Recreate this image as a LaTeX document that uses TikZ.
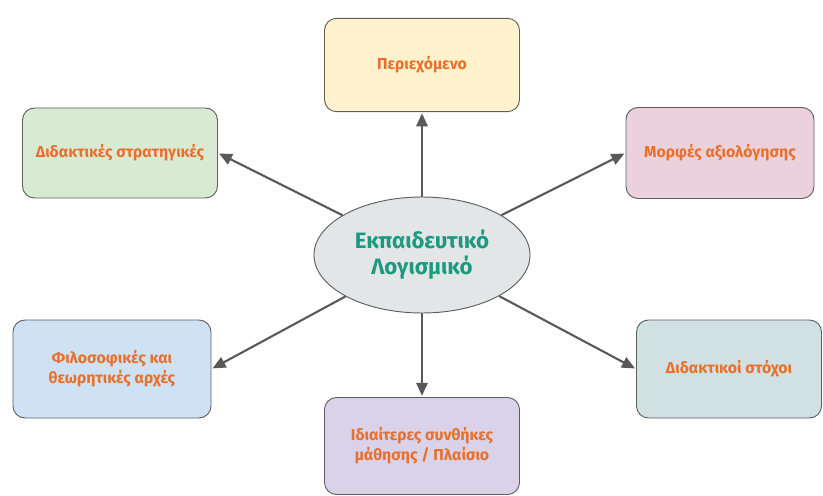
\documentclass[tikz,border=0pt]{standalone}
\usepackage{fontspec}
\setmainfont{Fira Sans}
\usepackage{tikz}
\usetikzlibrary{shapes.geometric,arrows.meta,positioning}
\definecolor{boxtext}{HTML}{E8702A}
\definecolor{hubtext}{HTML}{1B9A80}
\definecolor{boxline}{HTML}{5E5E5E}
\definecolor{arrowgray}{HTML}{595959}
\definecolor{hubfill}{HTML}{E2E6E6}
\definecolor{cyellow}{HTML}{FFF2CC}
\definecolor{cgreen}{HTML}{D9EAD3}
\definecolor{cpink}{HTML}{EAD1DC}
\definecolor{cblue}{HTML}{CFE2F3}
\definecolor{ccyan}{HTML}{D0E0E3}
\definecolor{clilac}{HTML}{D9D2E9}

\begin{document}
\begin{tikzpicture}[x=0.3mm, y=-0.3mm, >={Triangle[length=3.9mm,width=3.4mm]}]
   \useasboundingbox (0,0) rectangle (823,496);
   \node (hub) [ellipse, draw=boxline, line width=0.8pt, fill=hubfill,
      minimum width=64.8mm, minimum height=34.8mm, align=center,
      text=hubtext, font=\bfseries\fontsize{19}{22}\selectfont] at (422,255)
      {Εκπαιδευτικό\\Λογισμικό};
   \begin{scope}[every node/.style={rectangle, rounded corners=3.6mm, draw=boxline,
      line width=0.8pt, minimum width=58.5mm, minimum height=28mm, align=center,
      text=boxtext, font=\bfseries\fontsize{13.5}{17}\selectfont}]
    \node (content) [fill=cyellow] at (422,65) {Περιεχόμενο};
    \node (strat) [fill=cgreen, minimum height=27mm] at (120,153) {Διδακτικές στρατηγικές};
    \node (eval) [fill=cpink, minimum width=56.4mm, minimum height=27.3mm] at (720,153) {Μορφές αξιολόγησης};
    \node (phil) [fill=cblue, minimum width=59.4mm, minimum height=29.4mm] at (112,369) {Φιλοσοφικές και\\θεωρητικές αρχές};
    \node (goals) [fill=ccyan, minimum width=55.5mm, minimum height=29.4mm] at (729,369) {Διδακτικοί στόχοι};
    \node (cond) [fill=clilac, minimum height=29.1mm] at (422,446) {Ιδιαίτερες συνθήκες\\μάθησης / Πλαίσιο};
   \end{scope}
   \begin{scope}[->, every edge/.style={draw=arrowgray, line width=1.8pt, shorten >=1pt}]
    \draw (hub) edge (content.south);
    \draw (hub) edge (strat.east);
    \draw (hub) edge (eval.west);
    \draw (hub) edge (phil.east);
    \draw (hub) edge (goals.west);
    \draw (hub) edge (cond.north);
   \end{scope}
\end{tikzpicture}
\end{document}
